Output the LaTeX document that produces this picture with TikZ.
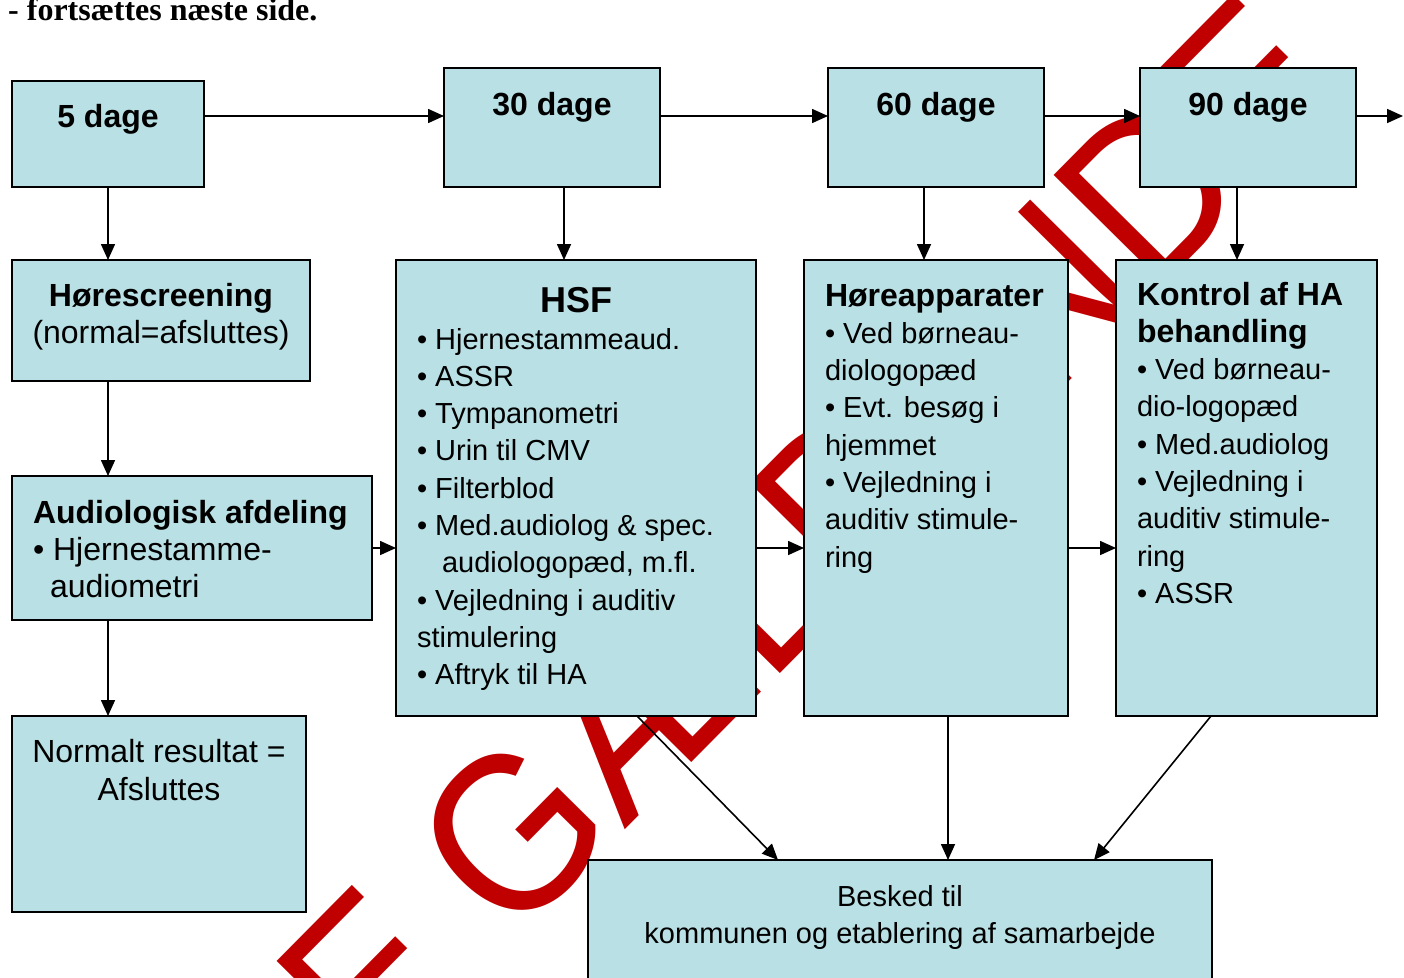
\documentclass[tikz,border=0pt]{standalone}
\usepackage{fontspec}
\setmainfont{Liberation Sans}
\newfontfamily\timesfont{Liberation Serif}
\usetikzlibrary{arrows.meta}
\definecolor{boxfill}{RGB}{185,224,228}
\definecolor{wmred}{RGB}{192,0,0}
\newcommand{\fs}[2]{\fontsize{#1bp}{#2bp}\selectfont}
\newcommand{\fstrut}{\rule{0pt}{30bp}}
\begin{document}
\begin{tikzpicture}[x=1bp,y=-1bp,
  box/.style={draw=black, line width=1.8bp, fill=boxfill, rectangle, inner sep=0pt, outer sep=0pt, anchor=north west},
  arr/.style={line width=1.6bp, -{Triangle[length=16bp,width=14bp]}},
  txt/.style={inner sep=0pt, outer sep=0pt, align=left, anchor=north west, font=\fs{29}{37.3}},
  ctxt/.style={inner sep=0pt, outer sep=0pt, align=center, anchor=north, font=\fs{32}{37.3}},
  head/.style={inner sep=0pt, outer sep=0pt, anchor=base, font=\bfseries\fs{32}{38}},
]
\useasboundingbox (0,0) rectangle (1404,977);
\fill[white] (0,0) rectangle (1404,977);
% watermark
\node[rotate=45.3, yscale=1.1, text=wmred, inner sep=0pt, font=\fs{205}{205}] (wm) at (693,651) {IKKE GÆLDENDE};
% title
\node[inner sep=0pt, anchor=base west, font=\timesfont\bfseries\fs{32}{36}] (title) at (8,20) {- fortsættes næste side.};
% boxes
\node[box, minimum width=192bp, minimum height=106bp] (d5) at (12,81) {};
\node[box, minimum width=216bp, minimum height=119bp] (d30) at (444,68) {};
\node[box, minimum width=216bp, minimum height=119bp] (d60) at (828,68) {};
\node[box, minimum width=216bp, minimum height=119bp] (d90) at (1140,68) {};
\node[box, minimum width=298bp, minimum height=121bp] (hs) at (12,260) {};
\node[box, minimum width=360bp, minimum height=144bp] (aud) at (12,476) {};
\node[box, minimum width=294bp, minimum height=196bp] (nor) at (12,716) {};
\node[box, minimum width=360bp, minimum height=456bp] (hsf) at (396,260) {};
\node[box, minimum width=264bp, minimum height=456bp] (hoa) at (804,260) {};
\node[box, minimum width=261bp, minimum height=456bp] (kon) at (1116,260) {};
\node[box, minimum width=624bp, minimum height=140bp] (bes) at (588,860) {};
% texts
\node[head] (d5t) at (108,127) {5 dage};
\node[head] (d30t) at (552,115) {30 dage};
\node[head] (d60t) at (936,115) {60 dage};
\node[head] (d90t) at (1248,115) {90 dage};
\node[ctxt] (hst) at (161,276) {\fstrut\textbf{Hørescreening}\\(normal=afsluttes)};
\node[txt, font=\fs{32}{37}] (audt) at (33,493) {\fstrut\textbf{Audiologisk afdeling}\\• Hjernestamme-\\\hspace{17bp}audiometri};
\node[ctxt, font=\fs{32}{38}] (nort) at (159,732) {\fstrut Normalt resultat =\\Afsluttes};
\node[inner sep=0pt, anchor=base, font=\bfseries\fs{36}{40}] (hsfh) at (576,312) {HSF};
\node[txt] (hsft) at (417,319) {\fstrut• Hjernestammeaud.\\• ASSR\\• Tympanometri\\• Urin til CMV\\• Filterblod\\• Med.audiolog \& spec.\\\hspace{25bp}audiologopæd, m.fl.\\• Vejledning i auditiv\\stimulering\\• Aftryk til HA};
\node[txt] (hoat) at (825,276) {\fstrut{\bfseries\fs{32}{37.3}Høreapparater}\\• Ved børneau-\\diologopæd\\• Evt. besøg i\\hjemmet\\• Vejledning i\\auditiv stimule-\\ring};
\node[txt] (kont) at (1137,275) {\fstrut{\bfseries\fs{32}{37.3}Kontrol af HA}\\{\bfseries\fs{32}{37.3}behandling}\\• Ved børneau-\\dio-logopæd\\• Med.audiolog\\• Vejledning i\\auditiv stimule-\\ring\\• ASSR};
\node[ctxt, font=\fs{29}{37}] (best) at (900,876) {\fstrut Besked til\\kommunen og etablering af samarbejde};
% connectors
\coordinate (r1) at (0,116);
\coordinate (r2) at (0,548);
\coordinate (rend) at (1403,116);
\coordinate (cx1) at (108,0);
\coordinate (cx2) at (564,0);
\coordinate (cx3) at (924,0);
\coordinate (cx4) at (1237,0);
\draw[arr] (d5.east |- r1) -- (d30.west |- r1);
\draw[arr] (d30.east |- r1) -- (d60.west |- r1);
\draw[arr] (d60.east |- r1) -- (d90.west |- r1);
\draw[arr] (d90.east |- r1) -- (rend);
\draw[arr] (d5.south -| cx1) -- (hs.north -| cx1);
\draw[arr] (hs.south -| cx1) -- (aud.north -| cx1);
\draw[arr] (aud.south -| cx1) -- (nor.north -| cx1);
\draw[arr] (d30.south -| cx2) -- (hsf.north -| cx2);
\draw[arr] (d60.south -| cx3) -- (hoa.north -| cx3);
\draw[arr] (d90.south -| cx4) -- (kon.north -| cx4);
\draw[arr] (aud.east |- r2) -- (hsf.west |- r2);
\draw[arr] (hsf.east |- r2) -- (hoa.west |- r2);
\draw[arr] (hoa.east |- r2) -- (kon.west |- r2);
\draw[arr] ([xshift=241bp]hsf.south west) -- ([xshift=190bp]bes.north west);
\draw[arr] ([xshift=144bp]hoa.south west) -- ([xshift=360bp]bes.north west);
\draw[arr] ([xshift=95bp]kon.south west) -- ([xshift=506bp]bes.north west);
\end{tikzpicture}
\end{document}
